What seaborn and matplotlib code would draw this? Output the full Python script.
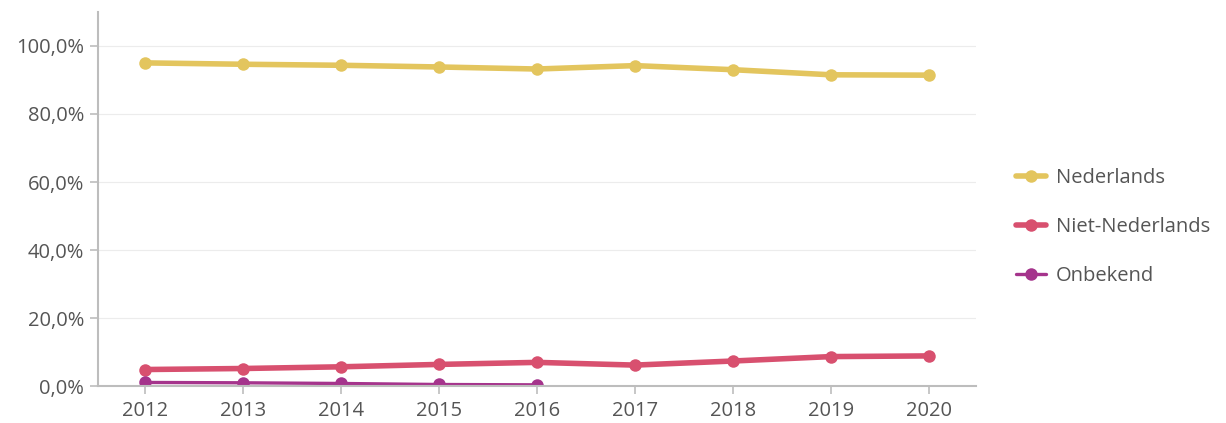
import numpy as np
import pandas as pd
import matplotlib
matplotlib.use("Agg")
import matplotlib.pyplot as plt
from matplotlib.ticker import FuncFormatter
import seaborn as sns

years = [2012, 2013, 2014, 2015, 2016, 2017, 2018, 2019, 2020]
nederlands = [95.0, 94.6, 94.3, 93.8, 93.2, 94.2, 93.0, 91.5, 91.4]
niet_nederlands = [4.9, 5.2, 5.7, 6.4, 7.0, 6.2, 7.4, 8.7, 8.9]
onbekend_years = [2012, 2013, 2014, 2015, 2016]
onbekend = [1.1, 1.0, 0.8, 0.5, 0.4]

series_names = ["Nederlands", "Niet-Nederlands", "Onbekend"]
colors = {"Nederlands": "#E3C55E", "Niet-Nederlands": "#D8506F", "Onbekend": "#A5348C"}
widths = {"Nederlands": 4.0, "Niet-Nederlands": 4.0, "Onbekend": 2.4}

df = pd.concat([
    pd.DataFrame({"jaar": years, "waarde": nederlands, "groep": "Nederlands"}),
    pd.DataFrame({"jaar": years, "waarde": niet_nederlands, "groep": "Niet-Nederlands"}),
    pd.DataFrame({"jaar": onbekend_years, "waarde": onbekend, "groep": "Onbekend"}),
])

sns.set_style("white")
plt.rcParams["font.family"] = ["Open Sans", "DejaVu Sans"]

fig = plt.figure(figsize=(12.26, 4.23), dpi=100)
ax = fig.add_axes([0.080, 0.087, 0.716, 0.885])

for name in series_names:
    sub = df[df["groep"] == name]
    sns.lineplot(data=sub, x="jaar", y="waarde", ax=ax, color=colors[name],
                 linewidth=widths[name], marker="o", markersize=9,
                 markeredgewidth=0, label=name)

ax.set_xlim(2011.52, 2020.48)
ax.set_ylim(0, 110)
ax.set_xticks(years)
ax.set_yticks([0, 20, 40, 60, 80, 100])
ax.yaxis.set_major_formatter(FuncFormatter(lambda v, p: f"{v:.1f}%".replace(".", ",")))
ax.set_xlabel("")
ax.set_ylabel("")

for y in [20, 40, 60, 80, 100]:
    ax.axhline(y, color="#ECECEC", linewidth=0.8, zorder=0)

for side in ["top", "right"]:
    ax.spines[side].set_visible(False)
for side in ["left", "bottom"]:
    ax.spines[side].set_color("#BDBDBD")
    ax.spines[side].set_linewidth(1.5)

ax.tick_params(axis="both", colors="#BDBDBD", labelcolor="#555555",
               labelsize=14.5, length=6, width=1.2, left=True, bottom=True)
ax.tick_params(axis="x", pad=5)
ax.tick_params(axis="y", pad=4)

leg = ax.legend(loc="center left", bbox_to_anchor=(1.025, 0.425), frameon=False,
                fontsize=14.5, handlelength=1.5, labelspacing=1.45, handletextpad=0.5)
for t in leg.get_texts():
    t.set_color("#555555")

fig.savefig("out.png", dpi=100)
